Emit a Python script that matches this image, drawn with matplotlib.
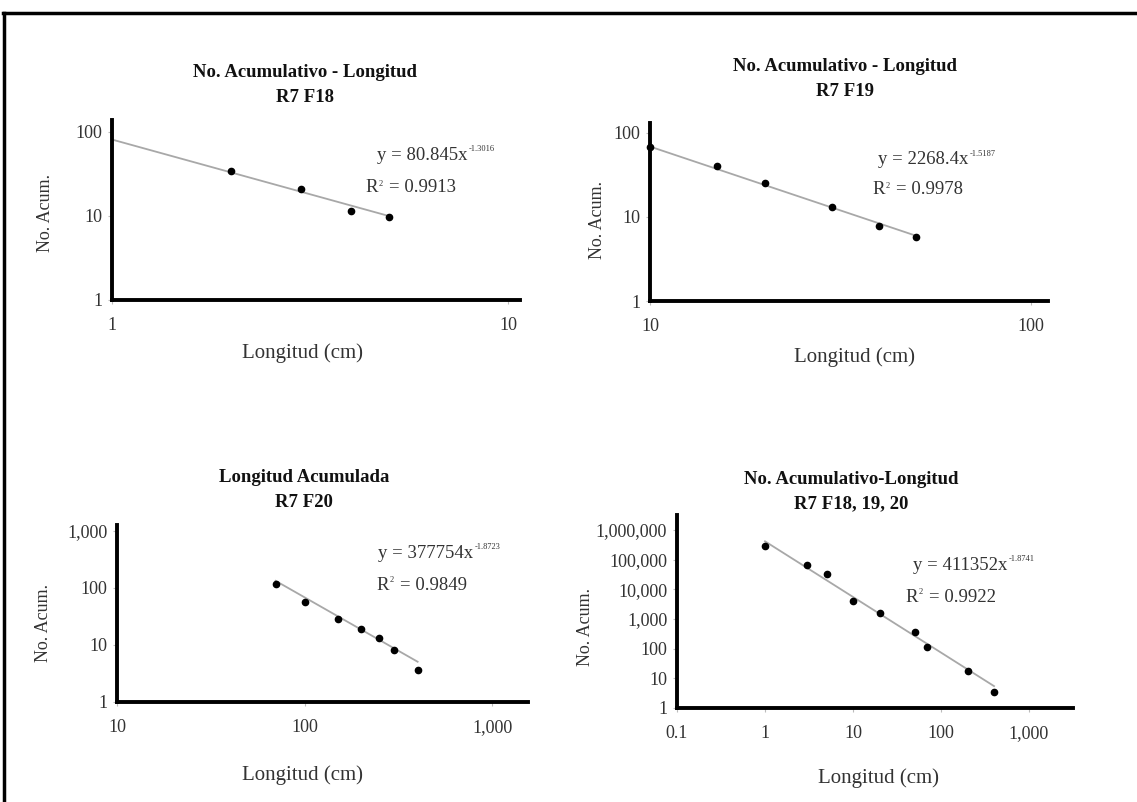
import numpy as np
import matplotlib
matplotlib.use('Agg')
import matplotlib.pyplot as plt
from matplotlib.lines import Line2D
from matplotlib.ticker import FixedLocator, FixedFormatter, NullLocator

plt.rcParams['font.family'] = ['Liberation Serif', 'DejaVu Serif']

# ---- data ----
titles = ['No. Acumulativo - Longitud\nR7 F18',
          'No. Acumulativo - Longitud\nR7 F19',
          'Longitud Acumulada\nR7 F20',
          'No. Acumulativo-Longitud\nR7 F18, 19, 20']

x_f18 = [2, 3, 4, 5]
y_f18 = [34, 21, 11.5, 9.7]

x_f19 = [10, 15, 20, 30, 40, 50]
y_f19 = [68, 40, 25, 13, 7.8, 5.8]

x_f20 = [70, 100, 150, 200, 250, 300, 400]
y_f20 = [117, 57, 28.6, 19, 13.3, 8, 3.6]

x_all = [1, 3, 5, 10, 20, 50, 70, 200, 400]
y_all = [280000, 65000, 32000, 4000, 1600, 360, 110, 18, 3.5]

# power trendlines y = a * x^b (as printed on the chart)
fit_a = [80.845, 2268.4, 377754, 411352]
fit_b = [-1.3016, -1.5187, -1.8723, -1.8741]
fit_a_txt = ['80.845', '2268.4', '377754', '411352']
fit_b_txt = ['-1.3016', '-1.5187', '-1.8723', '-1.8741']
fit_r2 = ['0.9913', '0.9978', '0.9849', '0.9922']
fit_range = [(1, 5), (10, 50), (70, 400), (1, 400)]

xticks = [[1, 10], [10, 100], [10, 100, 1000], [0.1, 1, 10, 100, 1000]]
xtick_labels = [['1', '10'], ['10', '100'], ['10', '100', '1,000'],
                ['0.1', '1', '10', '100', '1,000']]
yticks = [[1, 10, 100], [1, 10, 100], [1, 10, 100, 1000],
          [1, 10, 100, 1000, 10000, 100000, 1000000]]
ytick_labels = [['1', '10', '100'], ['1', '10', '100'],
                ['1', '10', '100', '1,000'],
                ['1', '10', '100', '1,000', '10,000', '100,000', '1,000,000']]
xlims = [(1, 10.7), (10, 111), (10, 1550), (0.1, 3160)]
ylims = [(1, 138), (1, 131), (1, 1260), (1, 10 ** 6.5)]

series_x = [x_f18, x_f19, x_f20, x_all]
series_y = [y_f18, y_f19, y_f20, y_all]

# ---- layout (pixel boxes: left, top, right, bottom) ----
W, H = 1137, 802
boxes = [(112, 120, 520, 300), (650, 123, 1048, 301),
         (117, 525, 528, 702), (677, 515, 1073, 708)]
title_pos = [(305, 85), (845, 79), (304, 490), (851, 492)]
ylabel_pos = [(45, 213), (597, 220), (43, 623), (585, 627)]
xlabel_pos = [(302, 353), (855, 357), (302, 775), (878, 778)]
eq_pos = [(377, 155), (878, 160), (378, 553), (913, 565)]
r2_pos = [(365, 188), (872, 190), (376, 585), (905, 597)]

txt_col = '#333333'

fig = plt.figure(figsize=(W / 100, H / 100), dpi=100)


def fx(px):
    return px / W


def fy(py):
    return 1 - py / H


# outer frame
fig.add_artist(Line2D([fx(3), fx(1137)], [fy(13), fy(13)], color='black', lw=2.5))
fig.add_artist(Line2D([fx(4), fx(4)], [fy(13), fy(802)], color='black', lw=2.5))

for i in range(4):
    l, t, r, b = boxes[i]
    ax = fig.add_axes([fx(l), fy(b), (r - l) / W, (b - t) / H])
    ax.set_xscale('log')
    ax.set_yscale('log')
    ax.set_xlim(*xlims[i])
    ax.set_ylim(*ylims[i])

    # trendline
    x0, x1 = fit_range[i]
    xl = np.array([x0, x1], dtype=float)
    ax.plot(xl, fit_a[i] * xl ** fit_b[i], color='#a8a8a8', lw=1.3, zorder=2)
    ax.plot(series_x[i], series_y[i], 'o', color='black', ms=4.5, zorder=3,
            clip_on=False)

    ax.xaxis.set_major_locator(FixedLocator(xticks[i]))
    ax.xaxis.set_major_formatter(FixedFormatter(xtick_labels[i]))
    ax.yaxis.set_major_locator(FixedLocator(yticks[i]))
    ax.yaxis.set_major_formatter(FixedFormatter(ytick_labels[i]))
    ax.xaxis.set_minor_locator(NullLocator())
    ax.yaxis.set_minor_locator(NullLocator())
    ax.tick_params(axis='x', length=3, color='#bbbbbb', pad=9,
                   labelsize=13, labelcolor=txt_col)
    ax.tick_params(axis='y', length=3, color='#bbbbbb', pad=4,
                   labelsize=13, labelcolor=txt_col)

    for s in ['top', 'right']:
        ax.spines[s].set_visible(False)
    for s in ['left', 'bottom']:
        ax.spines[s].set_linewidth(2.8)
        ax.spines[s].set_color('black')

    # titles and axis labels
    fig.text(fx(title_pos[i][0]), fy(title_pos[i][1]), titles[i],
             ha='center', va='center', fontsize=13.5, fontweight='bold',
             color='#111111', linespacing=1.55)
    fig.text(fx(ylabel_pos[i][0]), fy(ylabel_pos[i][1]), 'No. Acum.',
             ha='center', va='center', rotation=90, fontsize=13,
             color=txt_col)
    fig.text(fx(xlabel_pos[i][0]), fy(xlabel_pos[i][1]), 'Longitud (cm)',
             ha='center', va='center', fontsize=15, color=txt_col)

    # equation with small exponent
    te = fig.text(fx(eq_pos[i][0]), fy(eq_pos[i][1]),
                  'y = ' + fit_a_txt[i] + 'x', ha='left', va='center',
                  fontsize=13.5, color=txt_col)
    ax.annotate(fit_b_txt[i], xy=(1, 1), xycoords=te, xytext=(1, 1),
                textcoords='offset points', ha='left', va='top',
                fontsize=6, color=txt_col)

    tr = fig.text(fx(r2_pos[i][0]), fy(r2_pos[i][1]), 'R', ha='left',
                  va='center', fontsize=13.5, color=txt_col)
    ax.annotate('2', xy=(1, 1), xycoords=tr, xytext=(0.5, 0),
                textcoords='offset points', ha='left', va='top',
                fontsize=6, color=txt_col)
    ax.annotate('= ' + fit_r2[i], xy=(1, 0), xycoords=tr, xytext=(8, 0),
                textcoords='offset points', ha='left', va='bottom',
                fontsize=13.5, color=txt_col)

fig.savefig('out.png', dpi=100, facecolor='white')
